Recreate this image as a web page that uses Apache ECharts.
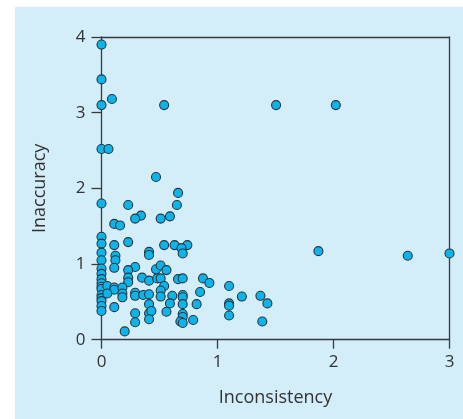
<!DOCTYPE html>
<html>
<head>
<meta charset="utf-8">
<script src="https://cdn.jsdelivr.net/npm/echarts@6/dist/echarts.min.js"></script>
<style>
  html, body { margin: 0; padding: 0; background: #ffffff; }
  #chart { position: absolute; left: 15px; top: 7px; width: 448px; height: 412px; }
</style>
</head>
<body>
<div id="chart"></div>
<script>
// Inconsistency (x) vs. inaccuracy (y) for each respondent
const inconsistency = [
  0, 0, 0, 0.09, 0.54, 1.505, 2.02,
  0, 0.06, 0.47, 0.66, 0, 0.65, 0.23, 0.34, 0.29, 0.51, 0.59, 0.11, 0.16,
  0, 0, 0, 0, 0, 0, 0, 0, 0, 0, 0, 0, 0, 0, 0,
  0.23, 0.11, 0.54, 0.63, 0.74, 0.69, 0.70, 1.87, 2.64, 3.0,
  0.12, 0.12, 0.41, 0.41, 0.11, 0.29, 0.23, 0.47, 0.51, 0.56,
  0.35, 0.41, 0.48, 0.51, 0.66, 0.70, 0.875, 0.93, 0.23, 0.23,
  0.05, 0.11, 0.11, 0.18, 0.54, 0.51, 1.10, 0.85, 0.05, 0.18, 0.18,
  0.29, 0.29, 0.36, 0.41, 0.51, 0.61, 0.70, 0.70, 1.21, 1.37,
  0.11, 0.41, 0.59, 0.70, 0.82, 1.10, 1.10, 1.43,
  0.29, 0.41, 0.43, 0.56, 0.70, 0.70, 1.10,
  0.29, 0.41, 0.68, 0.70, 0.79, 1.386, 0.20
];
const inaccuracy = [
  3.90, 3.44, 3.10, 3.18, 3.10, 3.10, 3.10,
  2.52, 2.52, 2.15, 1.94, 1.80, 1.78, 1.78, 1.64, 1.60, 1.60, 1.63, 1.53, 1.51,
  1.36, 1.27, 1.15, 1.05, 0.94, 0.87, 0.80, 0.745, 0.70, 0.67, 0.59, 0.55, 0.51, 0.445, 0.38,
  1.29, 1.25, 1.25, 1.25, 1.25, 1.21, 1.14, 1.17, 1.11, 1.14,
  1.11, 1.05, 1.16, 1.12, 0.95, 0.96, 0.92, 0.93, 0.98, 0.92,
  0.82, 0.78, 0.81, 0.81, 0.80, 0.81, 0.81, 0.75, 0.82, 0.76,
  0.71, 0.69, 0.66, 0.69, 0.71, 0.65, 0.71, 0.63, 0.61, 0.61, 0.56,
  0.62, 0.58, 0.59, 0.60, 0.57, 0.58, 0.59, 0.56, 0.57, 0.58,
  0.43, 0.47, 0.48, 0.47, 0.47, 0.48, 0.45, 0.48,
  0.35, 0.35, 0.38, 0.37, 0.34, 0.30, 0.32,
  0.23, 0.27, 0.24, 0.22, 0.26, 0.24, 0.11
];
const xTicks = [0, 1, 2, 3];
const yTicks = [0, 1, 2, 3, 4];

const points = inconsistency.map((x, i) => [x, inaccuracy[i]]);

const axisColor = '#3a3a3a';
const textColor = '#333333';
const font = '"Open Sans", "Noto Sans", sans-serif';

// plain frame line for the top and right edges of the plot box
const frameAxis = {
  type: 'value',
  axisLine: { show: true, onZero: false, lineStyle: { color: axisColor, width: 1.3 } },
  axisTick: { show: false }, axisLabel: { show: false }, splitLine: { show: false }
};

const chart = echarts.init(document.getElementById('chart'));
chart.setOption({
  backgroundColor: '#d3edf9',
  animation: false,
  grid: { left: 86.5, top: 30, right: 13.5, bottom: 79.3 },
  xAxis: [{
    type: 'value',
    min: xTicks[0], max: xTicks[xTicks.length - 1], interval: 1,
    name: 'Inconsistency',
    nameLocation: 'middle',
    nameGap: 49,
    nameTextStyle: { color: textColor, fontSize: 18, fontFamily: font },
    axisLine: { show: true, onZero: false, lineStyle: { color: axisColor, width: 1.3 } },
    axisTick: { show: true, length: 9, lineStyle: { color: axisColor, width: 1.3 } },
    axisLabel: { color: textColor, fontSize: 17, fontFamily: font, margin: 14 },
    splitLine: { show: false }
  }, Object.assign({}, frameAxis, {
    position: 'top', min: xTicks[0], max: xTicks[xTicks.length - 1]
  })],
  yAxis: [{
    type: 'value',
    min: yTicks[0], max: yTicks[yTicks.length - 1], interval: 1,
    name: 'Inaccuracy',
    nameLocation: 'middle',
    nameGap: 53,
    nameTextStyle: { color: textColor, fontSize: 18, fontFamily: font },
    axisLine: { show: true, onZero: false, lineStyle: { color: axisColor, width: 1.3 } },
    axisTick: { show: true, length: 10, lineStyle: { color: axisColor, width: 1.3 } },
    axisLabel: { color: textColor, fontSize: 17, fontFamily: font, margin: 16 },
    splitLine: { show: false }
  }, Object.assign({}, frameAxis, {
    position: 'right', min: yTicks[0], max: yTicks[yTicks.length - 1]
  })],
  series: [{
    type: 'scatter',
    data: points,
    symbol: 'circle',
    symbolSize: 9,
    itemStyle: { color: '#0cb4ea', borderColor: '#253742', borderWidth: 1.1, opacity: 1 },
    z: 5
  }]
});
</script>
</body>
</html>
